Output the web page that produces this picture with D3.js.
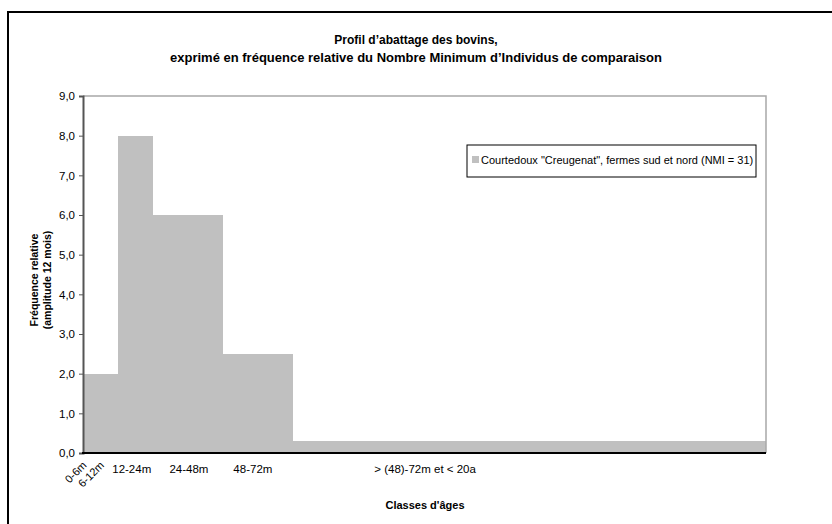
<!DOCTYPE html>
<html><head><meta charset="utf-8">
<script src="https://cdn.jsdelivr.net/npm/d3@7"></script>
<style>body{margin:0;background:#fff}svg{display:block}text{font-family:"Liberation Sans",Arial,sans-serif}</style>
</head><body><svg id="c" width="832" height="524"></svg>
<script>
// Data
const classes = ["0-6m", "6-12m", "12-24m", "24-48m", "48-72m", "> (48)-72m et < 20a"];
const binStart = [0, 12, 24, 48, 72];          // months
const binEnd   = [12, 24, 48, 72, 234];        // months
const binValue = [2.0, 8.0, 6.0, 2.5, 0.3];    // relative frequency
const yTicks = [0, 1, 2, 3, 4, 5, 6, 7, 8, 9];
const labelPos = [3, 9, 16.7, 36.3, 58.2, 117.2];  // label position in months
const labelRot = [true, true, false, false, false, false];
const seriesName = 'Courtedoux "Creugenat", fermes sud et nord (NMI = 31)';
const titleLines = ["Profil d’abattage des bovins,", "exprimé en fréquence relative du Nombre Minimum d’Individus de comparaison"];

const svg = d3.select("#c");
svg.append("rect").attr("width",832).attr("height",524).attr("fill","#fff");
svg.append("rect").attr("x",8).attr("y",12).attr("width",900).attr("height",600)
  .attr("fill","none").attr("stroke","#000").attr("stroke-width",2);

const L=83, R=766, T=96, B=453;
const x = d3.scaleLinear().domain([0, 234]).range([L, R]);
const y = d3.scaleLinear().domain([0, 9]).range([B, T]);

// title
svg.append("g").selectAll("text").data(titleLines).join("text")
  .attr("x",416).attr("y",(d,i)=>44+i*18).attr("text-anchor","middle")
  .attr("font-size",(d,i)=>i===0?12:13).attr("font-weight","bold").text(d=>d);

// bars
svg.append("g").selectAll("rect").data(binValue).join("rect")
  .attr("x",(d,i)=>x(binStart[i])).attr("width",(d,i)=>x(binEnd[i])-x(binStart[i]))
  .attr("y",d=>y(d)).attr("height",d=>B-y(d)).attr("fill","#c0c0c0")
  .attr("shape-rendering","crispEdges");

// plot border (top, right)
svg.append("path").attr("d",`M${L},${T}H${R}V${B}`).attr("fill","none")
  .attr("stroke","#a8a8a8").attr("stroke-width",1.5);

// y axis
const ya = svg.append("g").attr("transform",`translate(${L},0)`)
  .call(d3.axisLeft(y).tickValues(yTicks).tickSize(4).tickPadding(4)
    .tickFormat(d=>d3.format(".1f")(d).replace(".",",")));
ya.select(".domain").attr("stroke","#555").attr("stroke-width",2);
ya.selectAll(".tick line").attr("stroke","#555");
ya.selectAll(".tick text").attr("font-size",11.5).attr("font-family","Liberation Sans, Arial, sans-serif").attr("fill","#000");

// x axis line
svg.append("line").attr("x1",L-1).attr("x2",R).attr("y1",B).attr("y2",B)
  .attr("stroke","#000").attr("stroke-width",2);

// x labels
const xl = svg.append("g");
classes.forEach((c,i)=>{
  if(labelRot[i]){
    const px = x(labelPos[i]) - 4.5, py = B + 13;
    xl.append("text").attr("transform",`translate(${px},${py}) rotate(-45)`)
      .attr("text-anchor","end").attr("font-size",11).text(c);
  } else {
    xl.append("text").attr("x",x(labelPos[i])).attr("y",B+20)
      .attr("text-anchor","middle").attr("font-size",11.5).text(c);
  }
});

// axis titles
svg.append("text").attr("x",425).attr("y",509).attr("text-anchor","middle")
  .attr("font-size",11).attr("font-weight","bold").text("Classes d'âges");
const yt = svg.append("text").attr("transform","translate(38,280) rotate(-90)")
  .attr("text-anchor","middle").attr("font-size",10.5).attr("font-weight","bold");
yt.append("tspan").attr("x",0).attr("dy",0).text("Fréquence relative");
yt.append("tspan").attr("x",0).attr("dy",13).text("(amplitude 12 mois)");

// legend
const lg = svg.append("g");
lg.append("rect").attr("x",467).attr("y",145).attr("width",289).attr("height",32)
  .attr("fill","#fff").attr("stroke","#000").attr("stroke-width",1);
lg.append("rect").attr("x",472).attr("y",156).attr("width",7).attr("height",7).attr("fill","#c0c0c0");
lg.append("text").attr("x",481).attr("y",164).attr("font-size",11).text(seriesName);
</script></body></html>
